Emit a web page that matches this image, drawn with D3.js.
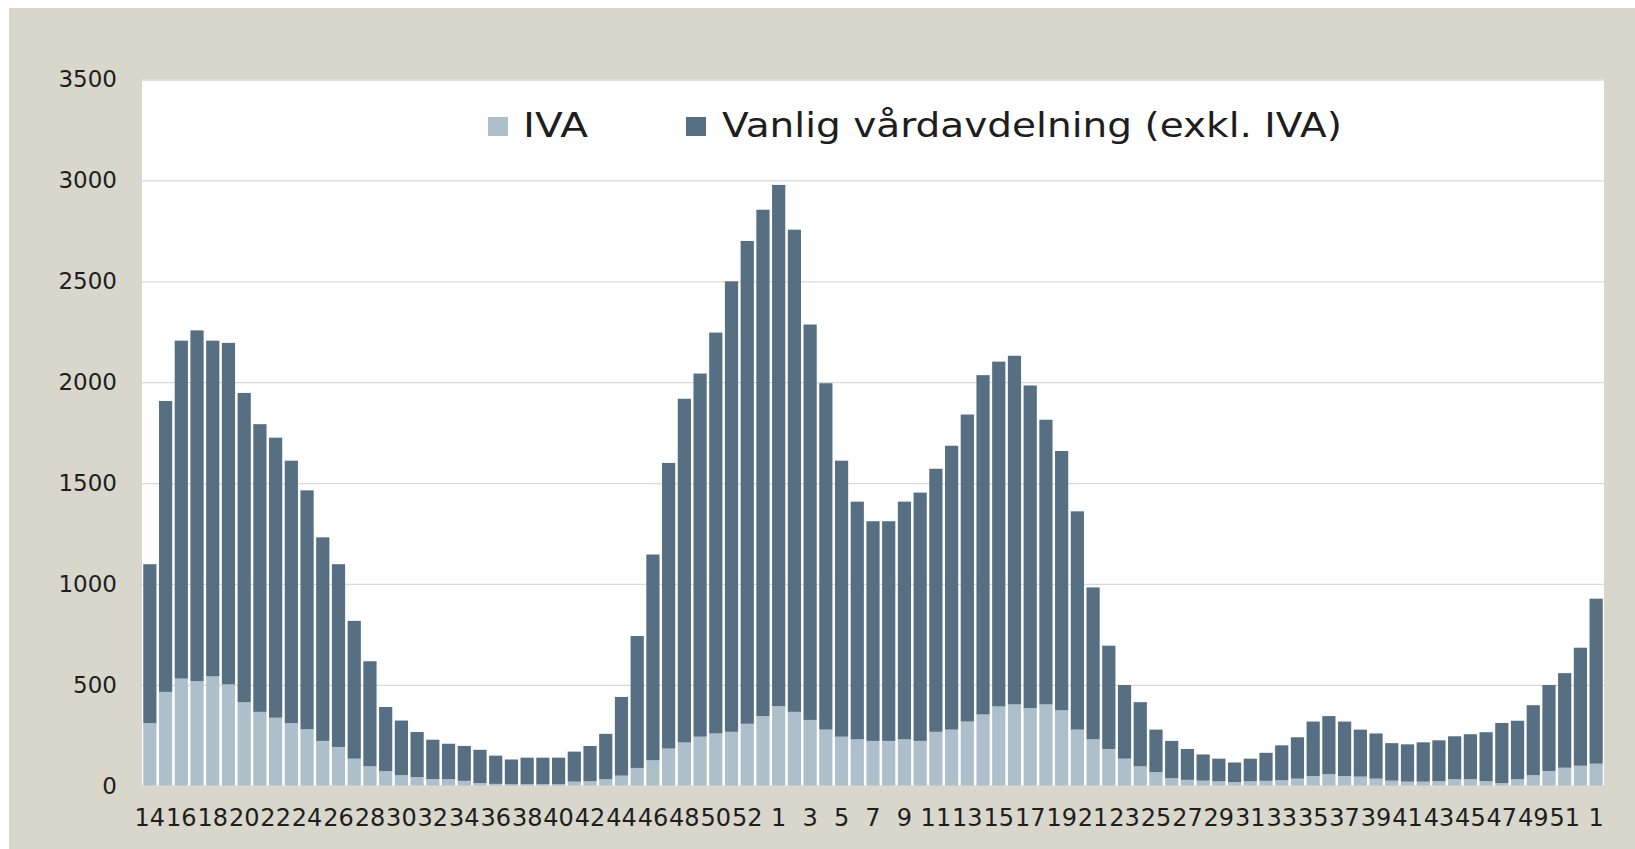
<!DOCTYPE html>
<html>
<head>
<meta charset="utf-8">
<script src="https://cdn.jsdelivr.net/npm/d3@7"></script>
<style>
  html, body { margin: 0; padding: 0; background: #ffffff; }
  svg { display: block; }
</style>
</head>
<body>
<svg id="chart" width="1635" height="849"></svg>
<script>
// Week numbers (2020 w14 – 2022 w1)
const weeks = [14,15,16,17,18,19,20,21,22,23,24,25,26,27,28,29,30,31,32,33,34,35,36,37,38,39,40,41,42,43,44,45,46,47,48,49,50,51,52,53,
  1,2,3,4,5,6,7,8,9,10,11,12,13,14,15,16,17,18,19,20,21,22,23,24,25,26,27,28,29,30,31,32,33,34,35,36,37,38,39,40,41,42,43,44,45,46,47,48,49,50,51,52,
  1];
// IVA (intensive care)
const ivaValues = [310,465,531,518,542,502,414,366,337,310,280,222,192,134,96,72,52,43,33,32,24,13,9,7,7,7,7,20,22,32,50,88,126,184,214,243,259,267,307,345,
  395,366,326,278,243,230,222,222,230,222,267,278,318,353,393,403,385,403,374,278,230,182,134,96,67,37,29,25,22,18,22,24,27,35,48,57,48,45,35,25,20,20,23,32,32,23,13,32,52,73,89,99,
  109];
// Vanlig vårdavdelning (exkl. IVA)
const wardValues = [788,1442,1675,1739,1664,1693,1533,1426,1388,1301,1184,1009,906,683,521,318,271,223,195,176,173,165,140,123,132,132,132,149,175,225,390,654,1020,1416,1704,1800,1987,2233,2393,2510,
  2583,2390,1960,1717,1368,1178,1089,1089,1178,1231,1304,1407,1522,1682,1709,1728,1599,1411,1285,1082,753,512,365,318,211,185,153,130,112,97,112,139,173,205,270,288,270,233,224,186,185,195,202,213,223,242,298,290,347,426,469,585,
  818];
const seriesNames = ["IVA", "Vanlig vårdavdelning (exkl. IVA)"];
const seriesColors = ["#adbfca", "#566f82"];
const yTicks = [0,500,1000,1500,2000,2500,3000,3500];

const svg = d3.select("#chart");
const W = 1635, H = 849;
const plot = {left: 142, right: 1604, top: 79.6, bottom: 785.7};
const FONT = "'DejaVu Sans', sans-serif";

// background panel
svg.append("rect").attr("x", 0).attr("y", 0).attr("width", W).attr("height", H).attr("fill", "#ffffff");
svg.append("rect").attr("x", 9).attr("y", 8).attr("width", W - 9).attr("height", H - 8).attr("fill", "#d9d7cc");
svg.append("rect").attr("x", plot.left).attr("y", plot.top)
  .attr("width", plot.right - plot.left).attr("height", plot.bottom - plot.top).attr("fill", "#ffffff");

const idx = d3.range(weeks.length);
const x = d3.scaleBand().domain(idx).range([plot.left, plot.right]).paddingInner(0.16).paddingOuter(0.08);
const y = d3.scaleLinear().domain([0, 3500]).range([plot.bottom, plot.top]);

// y axis with gridlines
const yAxis = svg.append("g").attr("transform", `translate(${plot.left},0)`)
  .call(d3.axisLeft(y).tickValues(yTicks).tickSize(-(plot.right - plot.left)).tickPadding(25).tickFormat(d3.format("d")));
yAxis.select(".domain").remove();
yAxis.selectAll(".tick line").attr("stroke", "#d9d9d9").attr("stroke-width", 1.3);
yAxis.selectAll(".tick text").attr("font-family", FONT).attr("font-size", 23).attr("fill", "#1e1e1e");

// stacked bars
const table = idx.map(i => ({i, iva: ivaValues[i], ward: wardValues[i]}));
const stack = d3.stack().keys(["iva", "ward"])(table);
svg.append("g").selectAll("g").data(stack).join("g")
  .attr("fill", (d, k) => seriesColors[k])
  .selectAll("rect").data(d => d).join("rect")
  .attr("x", d => x(d.data.i))
  .attr("width", x.bandwidth())
  .attr("y", d => y(d[1]))
  .attr("height", d => y(d[0]) - y(d[1]));

// x axis
const xAxis = svg.append("g").attr("transform", `translate(0,${plot.bottom})`)
  .call(d3.axisBottom(x).tickSize(0).tickPadding(23).tickFormat(i => i % 2 === 0 ? weeks[i] : ""));
xAxis.select(".domain").remove();
xAxis.selectAll(".tick text").attr("font-family", FONT).attr("font-size", 24).attr("fill", "#1e1e1e");

// legend
const legend = svg.append("g");
const legendItems = [{x: 488, tx: 523, len: 65}, {x: 686, tx: 722, len: 620}];
legendItems.forEach((p, k) => {
  legend.append("rect").attr("x", p.x).attr("y", 117).attr("width", 20).attr("height", 19).attr("fill", seriesColors[k]);
  legend.append("text").attr("x", p.tx).attr("y", 136.5).attr("font-family", FONT).attr("font-size", 34)
    .attr("textLength", p.len).attr("lengthAdjust", "spacingAndGlyphs")
    .attr("fill", "#1e1e1e").text(seriesNames[k]);
});
</script>
</body>
</html>
